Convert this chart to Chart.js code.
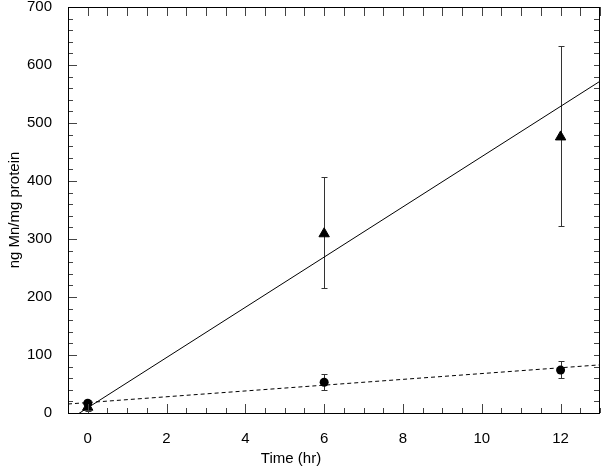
<!DOCTYPE html>
<html>
<head>
<meta charset="utf-8">
<script src="https://cdn.jsdelivr.net/npm/chart.js@4/dist/chart.umd.min.js"></script>
<style>
  html, body { margin: 0; padding: 0; background: #fff; }
  #wrap { width: 601px; height: 468px; }
</style>
</head>
<body>
<div id="wrap"><canvas id="chart"></canvas></div>
<script>
// measured time points (hr)
const time = [0, 6, 12];

// triangles: mean and error bar ends
const triMean = [10, 309, 476];
const triLow = [4, 215, 322];
const triHigh = [16, 407, 632];

// circles
const circMean = [17, 53, 74];
const circLow = [11, 40, 61];
const circHigh = [23, 67, 89];

// regression lines, end points at the axis edges
const fitX = [-0.5, 13];
const triFit = [-12.7, 572];
const circFit = [15.5, 83];

// axis ticks
const xTicks = [0, 2, 4, 6, 8, 10, 12];
const yTicks = [0, 100, 200, 300, 400, 500, 600, 700];
const xMinorStep = 0.5;
const yMinorStep = 20;

const FONT = "'Liberation Sans', Arial, sans-serif";

const toPoints = (xs, ys) => xs.map((x, i) => ({ x: x, y: ys[i] }));

const errorBars = {
  id: "errorBars",
  beforeDatasetsDraw(chart) {
    const { ctx, scales: { x, y } } = chart;
    ctx.save();
    ctx.strokeStyle = "#333";
    ctx.lineWidth = 1;
    const draw = (lows, highs) => {
      time.forEach((t, i) => {
        const px = Math.round(x.getPixelForValue(t)) + 0.5;
        const y1 = Math.round(y.getPixelForValue(lows[i])) + 0.5;
        const y2 = Math.round(y.getPixelForValue(highs[i])) + 0.5;
        ctx.beginPath();
        ctx.moveTo(px, y1); ctx.lineTo(px, y2);
        ctx.moveTo(px - 3, y1); ctx.lineTo(px + 3, y1);
        ctx.moveTo(px - 3, y2); ctx.lineTo(px + 3, y2);
        ctx.stroke();
      });
    };
    draw(triLow, triHigh);
    draw(circLow, circHigh);
    ctx.restore();
  },
};

const frame = {
  id: "frame",
  afterDraw(chart) {
    const { ctx, chartArea: a, scales: { x, y } } = chart;
    ctx.save();
    ctx.strokeStyle = "#444";
    ctx.lineWidth = 1;
    ctx.beginPath();
    for (let v = 0; v <= 700; v += yMinorStep) {
      const py = Math.round(y.getPixelForValue(v)) + 0.5;
      const len = yTicks.includes(v) ? 9 : 5;
      ctx.moveTo(a.left, py); ctx.lineTo(a.left + len, py);
      ctx.moveTo(a.right, py); ctx.lineTo(a.right - 6, py);
    }
    for (let v = -0.5; v <= 13; v += xMinorStep) {
      const px = Math.round(x.getPixelForValue(v)) + 0.5;
      const len = xTicks.includes(v) ? 9 : 5;
      ctx.moveTo(px, a.bottom); ctx.lineTo(px, a.bottom - len);
      ctx.moveTo(px, a.top); ctx.lineTo(px, a.top + 9);
    }
    ctx.stroke();

    ctx.strokeStyle = "#000";
    ctx.strokeRect(Math.round(a.left) + 0.5, Math.round(a.top) + 0.5,
      Math.round(a.right - a.left) - 1, Math.round(a.bottom - a.top));

    // x axis title
    ctx.fillStyle = "#000";
    ctx.font = "15px " + FONT;
    ctx.textAlign = "center";
    ctx.textBaseline = "middle";
    ctx.fillText("Time (hr)", 291, 459);
    ctx.restore();
  },
};

new Chart(document.getElementById("chart"), {
  type: "scatter",
  data: {
    datasets: [
      {
        data: toPoints(time, triMean),
        pointStyle: "triangle",
        radius: 6,
        backgroundColor: "#000",
        borderColor: "#000",
        borderWidth: 1,
      },
      {
        data: toPoints(time, circMean),
        pointStyle: "circle",
        radius: 4.5,
        backgroundColor: "#000",
        borderColor: "#000",
        borderWidth: 0,
      },
      {
        data: toPoints(fitX, triFit),
        showLine: true,
        radius: 0,
        borderColor: "#000",
        borderWidth: 1,
      },
      {
        data: toPoints(fitX, circFit),
        showLine: true,
        radius: 0,
        borderColor: "#000",
        borderWidth: 1,
        borderDash: [4, 3],
      },
    ],
  },
  options: {
    responsive: true,
    maintainAspectRatio: false,
    animation: false,
    layout: { autoPadding: false, padding: { top: 7, right: 1 } },
    plugins: {
      legend: { display: false },
      tooltip: { enabled: false },
    },
    scales: {
      x: {
        type: "linear",
        min: -0.5,
        max: 13,
        grid: { display: false },
        border: { display: false },
        afterBuildTicks: (scale) => {
          scale.ticks = xTicks.map((v) => ({ value: v }));
        },
        afterFit: (scale) => {
          scale.height = 55;
          scale.paddingLeft = 0;
          scale.paddingRight = 0;
        },
        ticks: {
          color: "#000",
          padding: 9,
          font: { family: FONT, size: 15 },
          maxRotation: 0,
        },
      },
      y: {
        min: 0,
        max: 700,
        grid: { display: false },
        border: { display: false },
        afterBuildTicks: (scale) => {
          scale.ticks = yTicks.map((v) => ({ value: v }));
        },
        afterFit: (scale) => {
          scale.width = 68;
          scale.paddingTop = 0;
          scale.paddingBottom = 0;
        },
        ticks: {
          color: "#000",
          padding: 8,
          font: { family: FONT, size: 15 },
        },
        title: {
          display: true,
          text: "ng Mn/mg protein",
          color: "#000",
          font: { family: FONT, size: 15 },
          padding: { top: 6, bottom: 0 },
        },
      },
    },
  },
  plugins: [errorBars, frame],
});
</script>
</body>
</html>
